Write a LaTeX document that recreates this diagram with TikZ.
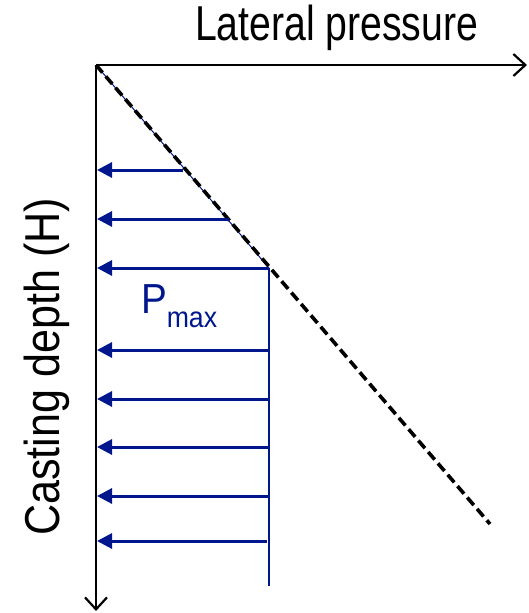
\documentclass[tikz,border=0pt]{standalone}
\usepackage{fontspec}
\setmainfont{Liberation Sans}[FakeStretch=0.8]
\newfontfamily\axisfont{Liberation Sans}[FakeStretch=0.88]
\newfontfamily\loadfont{Liberation Sans}[FakeStretch=0.92]
\usetikzlibrary{arrows.meta}
\definecolor{loadblue}{RGB}{0,22,140}

\begin{document}
\begin{tikzpicture}[
    x=1pt, y=-1pt,
    axis/.style={draw=black, line width=2.6pt,
        -{Straight Barb[length=12pt, width=22pt, line width=2.2pt]}},
    envelope/.style={draw=black, line width=3.6pt, dash pattern=on 10pt off 5pt},
    load/.style={draw=loadblue, line width=3pt, -{Triangle[length=15pt, width=15pt]}},
    every node/.style={inner sep=0pt, outer sep=0pt}
]
  \useasboundingbox (0,0) rectangle (529,613);

  % axes
  \coordinate (origin) at (96,65);
  \coordinate (pend) at (527,65);
  \coordinate (hend) at (96,611);
  \draw[axis] (origin) -- (pend);
  \draw[axis] (origin) -- (hend);

  \node[anchor=base west, font=\fontsize{49}{58}\selectfont] (ptitle) at (195,40) {Lateral pressure};
  \node[rotate=90, anchor=base, font=\axisfont\fontsize{49}{58}\selectfont] (htitle) at (59,367) {Casting depth (H)};

  % hydrostatic line and cut-off
  \coordinate (pmaxpt) at (269,268);
  \coordinate (envend) at (490,524);
  \coordinate (pbase) at (269,586);
  \draw[loadblue, line width=1pt] (origin) -- (pmaxpt);
  \draw[loadblue, line width=2.4pt] (pmaxpt) -- (pbase);
  \draw[envelope] (origin) -- (envend);

  % pressure arrows
  \foreach \i/\x/\y in {1/183/170, 2/229/219, 3/269/268, 4/269/350,
                        5/269/399, 6/269/447, 7/269/496, 8/267/541} {
    \coordinate (s\i) at (\x,\y);
    \coordinate (t\i) at (97,\y);
    \draw[load] (s\i) -- (t\i);
  }

  \node[anchor=base west, text=loadblue, font=\loadfont] (pmax) at (141,313)
    {\fontsize{42}{42}\selectfont P\raisebox{-14pt}{\fontsize{29}{29}\selectfont max}};
\end{tikzpicture}
\end{document}
